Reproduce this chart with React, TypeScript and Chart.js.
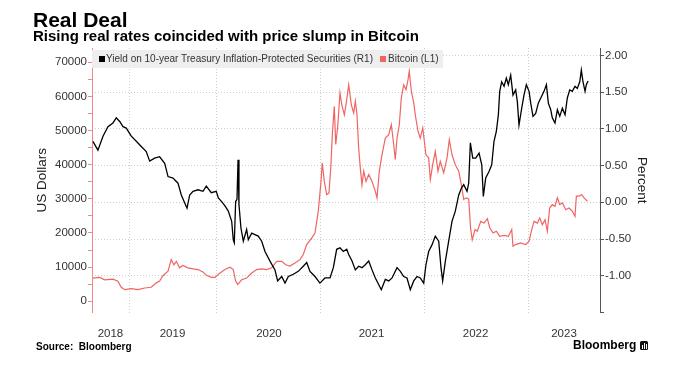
import { useEffect, useRef } from "react";
import { Chart, registerables } from "chart.js";

Chart.register(...registerables);

// ---- Data (x = position in years along the chart's time axis) ----
const tipsDates = [
  2018.804, 2018.852, 2018.901, 2018.949, 2018.997, 2019.029, 2019.062, 2019.094, 2019.125, 2019.174,
  2019.222, 2019.270, 2019.318, 2019.351, 2019.399, 2019.447, 2019.496, 2019.528, 2019.576, 2019.624,
  2019.656, 2019.689, 2019.711, 2019.737, 2019.769, 2019.817, 2019.865, 2019.897, 2019.945, 2019.993,
  2020.013, 2020.045, 2020.077, 2020.109, 2020.142, 2020.157, 2020.167, 2020.180, 2020.193, 2020.203,
  2020.212, 2020.231, 2020.254, 2020.286, 2020.302, 2020.335, 2020.366, 2020.398, 2020.431, 2020.463,
  2020.511, 2020.559, 2020.585, 2020.624, 2020.656, 2020.688, 2020.736, 2020.784, 2020.832, 2020.865,
  2020.897, 2020.945, 2020.993, 2021.041, 2021.090, 2021.122, 2021.154, 2021.186, 2021.218, 2021.251,
  2021.270, 2021.302, 2021.334, 2021.366, 2021.398, 2021.430, 2021.463, 2021.495, 2021.527, 2021.559,
  2021.584, 2021.623, 2021.656, 2021.688, 2021.736, 2021.768, 2021.800, 2021.832, 2021.864, 2021.897,
  2021.929, 2021.960, 2021.993, 2022.015, 2022.041, 2022.073, 2022.105, 2022.138, 2022.160, 2022.176,
  2022.202, 2022.234, 2022.266, 2022.298, 2022.331, 2022.356, 2022.379, 2022.411, 2022.427, 2022.443,
  2022.466, 2022.495, 2022.527, 2022.553, 2022.568, 2022.591, 2022.623, 2022.649, 2022.671, 2022.693,
  2022.713, 2022.726, 2022.745, 2022.768, 2022.790, 2022.809, 2022.832, 2022.854, 2022.880, 2022.896,
  2022.912, 2022.938, 2022.960, 2022.983, 2023.009, 2023.025, 2023.047, 2023.073, 2023.098, 2023.122,
  2023.153, 2023.176, 2023.195, 2023.218, 2023.233, 2023.259, 2023.282, 2023.305, 2023.330, 2023.356,
  2023.378, 2023.401, 2023.426, 2023.452, 2023.474, 2023.498, 2023.513, 2023.529, 2023.549, 2023.561,
  2023.578,
];
const tipsYield = [
  0.83, 0.71, 0.90, 1.03, 1.08, 1.15, 1.10, 1.03, 1.01, 0.90,
  0.83, 0.76, 0.69, 0.56, 0.60, 0.62, 0.53, 0.35, 0.33, 0.26,
  0.10, -0.01, -0.08, 0.10, 0.15, 0.17, 0.15, 0.22, 0.13, 0.15,
  0.06, 0.01, -0.05, -0.12, -0.26, -0.51, -0.55, 0.01, 0.04, 0.58,
  -0.03, -0.35, -0.53, -0.37, -0.51, -0.42, -0.44, -0.46, -0.53, -0.67,
  -0.80, -0.92, -1.07, -1.01, -1.10, -1.01, -0.98, -0.94, -0.87, -0.82,
  -0.94, -1.01, -1.10, -1.03, -1.03, -0.89, -0.64, -0.62, -0.67, -0.64,
  -0.71, -0.80, -0.92, -0.87, -0.89, -0.85, -0.80, -0.92, -1.03, -1.12,
  -1.19, -1.05, -1.07, -1.03, -0.89, -0.94, -1.01, -1.03, -1.19, -1.07,
  -1.01, -1.03, -1.10, -0.85, -0.67, -0.58, -0.46, -0.53, -0.89, -1.07,
  -0.80, -0.53, -0.26, -0.12, 0.10, 0.19, 0.24, 0.15, 0.26, 0.81,
  0.60, 0.60, 0.67, 0.51, 0.08, 0.33, 0.42, 0.51, 0.83, 0.96,
  1.19, 1.51, 1.64, 1.58, 1.69, 1.60, 1.73, 1.46, 1.53, 1.37,
  1.05, 1.28, 1.46, 1.60, 1.51, 1.35, 1.17, 1.21, 1.35, 1.42,
  1.51, 1.60, 1.35, 1.26, 1.15, 1.08, 1.26, 1.17, 1.28, 1.19,
  1.42, 1.53, 1.51, 1.58, 1.55, 1.64, 1.80, 1.64, 1.51, 1.60,
  1.65,
];

const btcDates = [
  2018.804, 2018.869, 2018.917, 2018.997, 2019.045, 2019.077, 2019.110, 2019.174, 2019.238, 2019.303,
  2019.366, 2019.415, 2019.447, 2019.479, 2019.528, 2019.559, 2019.585, 2019.608, 2019.640, 2019.672,
  2019.720, 2019.769, 2019.817, 2019.865, 2019.897, 2019.945, 2019.981, 2020.029, 2020.077, 2020.125,
  2020.157, 2020.180, 2020.200, 2020.238, 2020.286, 2020.335, 2020.383, 2020.431, 2020.479, 2020.527,
  2020.576, 2020.624, 2020.662, 2020.704, 2020.752, 2020.800, 2020.832, 2020.865, 2020.913, 2020.945,
  2020.977, 2021.003, 2021.015, 2021.035, 2021.058, 2021.080, 2021.099, 2021.112, 2021.131, 2021.145,
  2021.164, 2021.186, 2021.203, 2021.228, 2021.251, 2021.270, 2021.295, 2021.318, 2021.334, 2021.350,
  2021.366, 2021.382, 2021.398, 2021.415, 2021.437, 2021.463, 2021.495, 2021.527, 2021.543, 2021.565,
  2021.591, 2021.623, 2021.656, 2021.681, 2021.704, 2021.719, 2021.736, 2021.758, 2021.777, 2021.800,
  2021.823, 2021.842, 2021.854, 2021.874, 2021.897, 2021.912, 2021.938, 2021.960, 2021.984, 2022.003,
  2022.015, 2022.041, 2022.057, 2022.080, 2022.105, 2022.131, 2022.153, 2022.186, 2022.218, 2022.240,
  2022.266, 2022.298, 2022.331, 2022.356, 2022.379, 2022.401, 2022.427, 2022.445, 2022.461, 2022.488,
  2022.510, 2022.543, 2022.575, 2022.607, 2022.630, 2022.662, 2022.693, 2022.726, 2022.768, 2022.809,
  2022.842, 2022.854, 2022.880, 2022.929, 2022.977, 2023.009, 2023.035, 2023.057, 2023.089, 2023.112,
  2023.137, 2023.163, 2023.185, 2023.208, 2023.233, 2023.259, 2023.282, 2023.305, 2023.330, 2023.363,
  2023.394, 2023.426, 2023.452, 2023.465, 2023.491, 2023.517, 2023.539, 2023.571,
];
const btcPrice = [
  6800, 7000, 6300, 6500, 5900, 4100, 3400, 3700, 3400, 3900,
  4100, 5400, 5900, 7500, 8800, 12200, 10700, 11700, 9800, 10500,
  9800, 9500, 9300, 8600, 7600, 7000, 7000, 8300, 9300, 10000,
  9300, 5900, 4900, 6300, 6800, 8300, 9300, 9500, 9300, 9800,
  11700, 11700, 10700, 10300, 11200, 12200, 13700, 16600, 18500, 20000,
  26400, 35100, 40500, 35100, 31200, 31700, 40000, 48800, 57100, 45900,
  51200, 61000, 57600, 54600, 59000, 63400, 57600, 55100, 58600, 54600,
  44900, 39000, 34100, 38100, 35100, 37100, 35100, 32200, 30300, 38100,
  42900, 47800, 48800, 51700, 45900, 41500, 47800, 51700, 59500, 63400,
  62000, 64900, 67400, 61500, 58100, 54600, 49800, 47800, 50800, 45900,
  42900, 42000, 35600, 40000, 43900, 38100, 41000, 37600, 42000, 47300,
  42900, 40000, 38100, 34100, 29800, 30300, 30000, 21500, 18000, 21000,
  20500, 23400, 22900, 24200, 21500, 20000, 20500, 19000, 19300, 19000,
  21000, 16100, 16600, 17100, 16600, 17600, 21000, 23400, 22900, 24400,
  22400, 23900, 20500, 27300, 28300, 27800, 30300, 28300, 28800, 26800,
  27300, 26400, 24900, 30800, 30800, 31200, 30300, 29300,
];

// x-axis: year boundaries (grid lines) and year label positions
const xGridYears = [2019.161, 2020, 2021, 2022, 2023];
const xLabelPositions = [2018.973, 2019.571, 2020.501, 2021.49, 2022.493, 2023.346];
const xLabelTexts = ["2018", "2019", "2020", "2021", "2022", "2023"];
const xRange = [2018.795, 2023.693];

// Left axis (US Dollars) and right axis (Percent)
const usdTicks = [0, 5000, 10000, 15000, 20000, 25000, 30000, 35000, 40000, 45000, 50000, 55000, 60000, 65000, 70000];
const usdRange = [-3280, 74170];
const pctTicks = [-1.5, -1, -0.5, 0, 0.5, 1, 1.5, 2];
const pctRange = [-1.5, 2.1];

const FONT = '"Liberation Sans", Arial, sans-serif';

export default function App() {
  const ref = useRef<HTMLCanvasElement>(null);

  useEffect(() => {
    const canvas = ref.current;
    if (!canvas) return;
    const tipsData = tipsDates.map((x, i) => ({ x, y: tipsYield[i] }));
    const btcData = btcDates.map((x, i) => ({ x, y: btcPrice[i] }));
    const xTicks = [...xGridYears, ...xLabelPositions].sort((a, b) => a - b);

    const chart = new Chart(canvas, {
      type: "line",
      data: {
        datasets: [
          {
            label: "Yield on 10-year Treasury Inflation-Protected Securities (R1)",
            data: tipsData,
            yAxisID: "yR",
            borderColor: "#000000",
            borderWidth: 1.3,
            pointRadius: 0,
            tension: 0,
          },
          {
            label: "Bitcoin (L1)",
            data: btcData,
            yAxisID: "yL",
            borderColor: "#f06464",
            borderWidth: 1.2,
            pointRadius: 0,
            tension: 0,
          },
        ],
      },
      options: {
        responsive: false,
        animation: false,
        devicePixelRatio: 1,
        events: [],
        layout: { padding: { left: 0, right: 0, top: 48, bottom: 15.5 } },
        plugins: { legend: { display: false }, tooltip: { enabled: false }, title: { display: false } },
        scales: {
          x: {
            type: "linear",
            position: "bottom",
            min: xRange[0],
            max: xRange[1],
            afterBuildTicks: (scale: any) => {
              scale.ticks = xTicks.map((v) => ({ value: v }));
            },
            afterFit: (scale: any) => {
              scale.height = 40;
            },
            grid: {
              display: true,
              drawTicks: false,
              lineWidth: 1,
              color: (ctx: any) =>
                ctx.tick && xGridYears.includes(ctx.tick.value) ? "#cfcfcf" : "rgba(0,0,0,0)",
            },
            border: { display: false, dash: [1, 2] },
            ticks: {
              autoSkip: false,
              maxRotation: 0,
              minRotation: 0,
              padding: 14,
              color: "#333333",
              font: { family: FONT, size: 11.5 },
              callback: (value: any) => {
                const i = xLabelPositions.indexOf(value);
                return i >= 0 ? xLabelTexts[i] : "";
              },
            },
          },
          yL: {
            type: "linear",
            position: "left",
            min: usdRange[0],
            max: usdRange[1],
            afterBuildTicks: (scale: any) => {
              scale.ticks = usdTicks.map((v) => ({ value: v }));
            },
            afterFit: (scale: any) => {
              scale.width = 92;
            },
            grid: {
              display: true,
              drawOnChartArea: false,
              drawTicks: true,
              tickLength: 4,
              tickColor: "#f08a8a",
              color: "#f08a8a",
            },
            border: { display: true, color: "#f08a8a", width: 1 },
            ticks: {
              padding: 1,
              color: "#333333",
              font: { family: FONT, size: 11.5 },
              callback: (value: any) => (value % 10000 === 0 ? String(value) : ""),
            },
            title: {
              display: true,
              text: "US Dollars",
              color: "#222222",
              font: { family: FONT, size: 13.5 },
              padding: { top: 34, bottom: 0 },
            },
          },
          yR: {
            type: "linear",
            position: "right",
            min: pctRange[0],
            max: pctRange[1],
            afterBuildTicks: (scale: any) => {
              scale.ticks = pctTicks.map((v) => ({ value: v }));
            },
            afterFit: (scale: any) => {
              scale.width = 93;
            },
            grid: {
              display: true,
              drawOnChartArea: true,
              drawTicks: true,
              tickLength: 4,
              tickColor: "#555555",
              color: (ctx: any) =>
                ctx.tick && ctx.tick.value === pctTicks[0] ? "rgba(0,0,0,0)" : "#cfcfcf",
            },
            border: { display: true, color: "#555555", width: 1, dash: [1, 2] },
            ticks: {
              padding: 1,
              color: "#333333",
              font: { family: FONT, size: 11.5 },
              callback: (value: any) => (value === pctTicks[0] ? "" : Number(value).toFixed(2)),
            },
            title: {
              display: true,
              text: "Percent",
              color: "#222222",
              font: { family: FONT, size: 13.5 },
              padding: { top: 43, bottom: 0 },
            },
          },
        },
      },
    } as any);

    return () => chart.destroy();
  }, []);

  const abs = (extra: any) => ({ position: "absolute" as const, whiteSpace: "nowrap" as const, lineHeight: 1, ...extra });

  return (
    <div
      style={{
        position: "absolute",
        left: 0,
        top: 0,
        width: 693,
        height: 368,
        overflow: "hidden",
        background: "#ffffff",
        fontFamily: FONT,
        color: "#000",
      }}
    >
      <canvas ref={ref} width={693} height={368} style={{ position: "absolute", left: 0, top: 0, width: 693, height: 368 }} />

      <div style={abs({ left: 33, top: 9, fontSize: 21, fontWeight: 700 })}>Real Deal</div>
      <div style={abs({ left: 33, top: 28, fontSize: 15, fontWeight: 700 })}>
        Rising real rates coincided with price slump in Bitcoin
      </div>

      {/* Legend */}
      <div style={abs({ left: 92, top: 49.5, width: 351, height: 18.5, background: "#eeeeee" })} />
      <div style={abs({ left: 99, top: 56, width: 6, height: 6, background: "#000" })} />
      <div style={abs({ left: 106, top: 54, fontSize: 10, color: "#333" })}>
        Yield on 10-year Treasury Inflation-Protected Securities (R1)
      </div>
      <div style={abs({ left: 380, top: 56, width: 6, height: 6, background: "#f06464" })} />
      <div style={abs({ left: 388, top: 54, fontSize: 10, color: "#333" })}>Bitcoin (L1)</div>

      {/* Footer */}
      <div style={abs({ left: 36, top: 342, fontSize: 10, fontWeight: 700 })}>Source:&nbsp; Bloomberg</div>
      <div style={abs({ left: 573, top: 338.5, fontSize: 12, fontWeight: 700 })}>Bloomberg</div>
      <div style={abs({ left: 640, top: 341, width: 8, height: 9, background: "#111", borderRadius: 1.5 })}>
        <div style={{ position: "absolute", left: 1.5, top: 4, width: 1, height: 4, background: "#fff" }} />
        <div style={{ position: "absolute", left: 3.5, top: 2, width: 1, height: 6, background: "#fff" }} />
        <div style={{ position: "absolute", left: 5.5, top: 3, width: 1, height: 5, background: "#fff" }} />
      </div>
    </div>
  );
}
